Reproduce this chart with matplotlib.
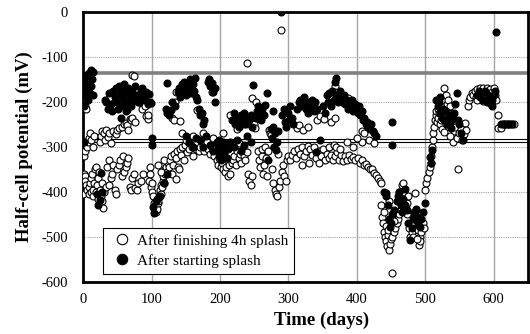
import matplotlib
matplotlib.use("Agg")
import matplotlib.pyplot as plt

plt.rcParams["font.family"] = ["Liberation Serif", "DejaVu Serif"]
plt.rcParams["axes.unicode_minus"] = False

# After finishing 4h splash (open circles): (day, mV)
open_pts = [
    (0, -405), (1, -360), (2, -365), (3, -375), (4, -385), (6, -395), (8, -390), (9, -405),
    (10, -380), (11, -400), (12, -370), (13, -360), (14, -410), (15, -395), (16, -380),
    (17, -350), (18, -345), (19, -400), (20, -385), (21, -415), (22, -370), (23, -355),
    (24, -395), (26, -410), (27, -380), (28, -420), (29, -435), (31, -400), (33, -390),
    (35, -345), (37, -330), (38, -385), (40, -370),
    (2, -210), (4, -215), (1, -320), (3, -310), (5, -300), (7, -290), (8, -280), (10, -270),
    (12, -285), (14, -300), (16, -275), (24, -290), (26, -275), (28, -265), (30, -268),
    (32, -285), (34, -262), (36, -278), (38, -270), (40, -292),
    (42, -360), (44, -340), (46, -395), (48, -405), (50, -350), (52, -340), (54, -330),
    (56, -365), (58, -320), (60, -355), (62, -345), (64, -335), (66, -325), (68, -390),
    (70, -395), (72, -370), (74, -360), (76, -392), (78, -395), (80, -380), (84, -375),
    (88, -360),
    (44, -265), (48, -272), (50, -262), (53, -258), (56, -255), (59, -250), (62, -246),
    (64, -252), (66, -262), (68, -238), (70, -240), (72, -235), (75, -245), (92, -232),
    (94, -238), (95, -228), (86, -215), (90, -210),
    (38, -192), (48, -185), (52, -198), (55, -205), (58, -188), (62, -175), (65, -190),
    (72, -140), (74, -142), (80, -200), (85, -190), (88, -178),
    (97, -345), (98, -360), (99, -390), (96, -375), (100, -380),
    (101, -400), (102, -410), (103, -425), (104, -435), (105, -430), (106, -445),
    (107, -440), (108, -438), (109, -425), (110, -420), (111, -410), (112, -395),
    (113, -405), (114, -385), (115, -390), (116, -375), (117, -365), (118, -380),
    (119, -350), (120, -360), (121, -345), (122, -355), (124, -335), (125, -345),
    (110, -340), (113, -355), (118, -330),
    (127, -330), (129, -320), (131, -340), (133, -315), (135, -325), (137, -310),
    (139, -345), (141, -305), (143, -318), (145, -300), (147, -330), (149, -295),
    (151, -312), (153, -290), (155, -305), (157, -285), (159, -300), (161, -320),
    (163, -295), (165, -305), (167, -290), (169, -310), (171, -300), (173, -285),
    (175, -295), (177, -310), (179, -300), (181, -290), (183, -305), (185, -315),
    (187, -298), (189, -310), (191, -320), (193, -305), (195, -330), (197, -340),
    (199, -325), (201, -345), (203, -335), (205, -350), (207, -355), (209, -345),
    (211, -365), (213, -340), (215, -360), (217, -335), (219, -330), (221, -320),
    (223, -340), (225, -310), (227, -325), (229, -315), (231, -335), (233, -305),
    (235, -320), (237, -330), (239, -312), (241, -360), (243, -375), (245, -385),
    (247, -365), (130, -360), (135, -372), (140, -350),
    (130, -235), (132, -240), (134, -200), (136, -178), (142, -243), (166, -218),
    (188, -178), (215, -230), (240, -113), (247, -192), (150, -285), (145, -270),
    (160, -275), (175, -270), (190, -280), (205, -270), (225, -260), (235, -250),
    (228, -292),
    (249, -250), (251, -258), (253, -200), (255, -310), (257, -330), (259, -345),
    (261, -320), (263, -360), (265, -340), (267, -325), (269, -365), (271, -262),
    (273, -268), (275, -273), (276, -350), (278, -380), (280, -395), (282, -405),
    (284, -410), (286, -390), (288, -375), (290, -355), (292, -340), (294, -365),
    (296, -375), (298, -330), (300, -320), (262, -305), (266, -300), (270, -310),
    (279, -300), (285, -315), (289, -40),
    (302, -330), (305, -318), (308, -310), (311, -325), (314, -305), (317, -315),
    (320, -300), (323, -320), (326, -310), (329, -298), (332, -305), (335, -318),
    (338, -300), (341, -325), (344, -310), (347, -320), (350, -305), (353, -330),
    (356, -315), (359, -325), (362, -318), (365, -330), (368, -320), (371, -312),
    (374, -328), (377, -318), (380, -332), (383, -320), (386, -328), (389, -318),
    (392, -326), (395, -322), (398, -330), (401, -325), (404, -335), (407, -330),
    (410, -340), (413, -338), (416, -345), (419, -350), (422, -348), (425, -358),
    (428, -362), (431, -368), (434, -375), (436, -380), (320, -340), (330, -335),
    (345, -335), (360, -300),
    (312, -258), (316, -252), (322, -262), (328, -255), (342, -240), (346, -232),
    (352, -238), (362, -245), (368, -235), (366, -295), (370, -300), (375, -305),
    (387, -192), (385, -290), (407, -265), (410, -270), (407, -290), (368, -165),
    (368, -178), (380, -200), (395, -300), (400, -280), (418, -285), (425, -292),
    (436, -430), (437, -455), (438, -470), (439, -445), (440, -490), (441, -500),
    (442, -475), (443, -510), (444, -520), (445, -495), (446, -485), (447, -530),
    (448, -515), (450, -505), (451, -580), (452, -500), (454, -490), (456, -480),
    (458, -470), (460, -460), (462, -450), (464, -440), (466, -385), (467, -380),
    (468, -400), (470, -420), (472, -430), (473, -425), (474, -450), (476, -480),
    (478, -500), (480, -490), (482, -470), (484, -455), (485, -403), (486, -440),
    (488, -465), (490, -485), (491, -517), (492, -500), (493, -510), (494, -490),
    (496, -470), (498, -480), (447, -420), (455, -465), (462, -400), (475, -410),
    (482, -500), (488, -505),
    (499, -395), (501, -380), (503, -370), (505, -355), (507, -345), (508, -335),
    (509, -320), (510, -300), (511, -285), (512, -270), (513, -255), (514, -240),
    (515, -230), (516, -220), (517, -245), (518, -215), (519, -235), (520, -225),
    (521, -250), (522, -205), (523, -240), (524, -260), (525, -210), (526, -195),
    (527, -230), (528, -170), (529, -215), (530, -185), (531, -250), (532, -205),
    (533, -195), (534, -225), (536, -210), (538, -240), (540, -288), (542, -265),
    (544, -255), (546, -280), (548, -349), (550, -270), (552, -260), (554, -285),
    (556, -272), (558, -247), (560, -262), (528, -266), (536, -275),
    (562, -210), (564, -195), (566, -190), (568, -180), (570, -185), (572, -175),
    (574, -190), (576, -172), (578, -180), (580, -168), (582, -178), (584, -170),
    (586, -185), (588, -175), (590, -168), (592, -180), (594, -172), (596, -190),
    (598, -178), (600, -170), (602, -185), (604, -195), (606, -229), (607, -257),
    (610, -258), (630, -248), (575, -195), (585, -198), (595, -200),
]

# After starting splash (filled circles): (day, mV)
filled_pts = [
    (0, -160), (0.5, -210), (1, -150), (1.5, -290), (2, -175), (3, -145), (4, -185),
    (5, -170), (6, -140), (7, -195), (8, -160), (9, -135), (10, -180), (11, -130),
    (12, -165), (13, -150), (14, -185), (15, -133),
    (20, -405), (22, -430), (24, -418), (26, -358), (28, -400),
    (32, -195), (34, -200), (36, -215), (38, -180), (40, -205), (42, -220), (44, -175),
    (46, -190), (48, -168), (50, -200), (51, -215), (52, -165), (54, -185), (55, -235),
    (56, -175), (58, -210), (59, -160), (60, -195), (62, -180), (63, -220), (64, -218),
    (65, -170), (66, -200), (68, -185), (70, -210), (72, -175), (74, -195), (76, -165),
    (78, -190), (80, -185), (82, -200), (84, -175), (86, -170), (88, -185), (90, -195),
    (92, -178), (94, -205), (96, -182), (98, -200), (99, -203), (100, -280), (100, -296),
    (102, -433), (103, -447), (106, -420), (108, -415), (112, -410), (118, -380),
    (122, -360), (122, -158), (121, -215), (123, -225),
    (126, -230), (128, -218), (130, -200), (134, -210), (138, -178), (140, -170),
    (142, -190), (144, -160), (146, -175), (148, -155), (150, -185), (152, -165),
    (154, -170), (156, -150), (158, -180), (160, -160), (162, -175), (163, -147),
    (165, -190), (167, -195), (169, -215), (171, -230), (173, -225), (175, -250),
    (177, -240), (182, -155), (184, -150), (186, -165), (188, -158), (190, -178),
    (192, -170), (193, -200),
    (150, -275), (155, -290), (160, -300), (165, -280), (170, -285), (175, -300),
    (180, -275), (185, -295), (190, -310), (195, -290), (197, -300), (198, -320),
    (199, -285), (200, -310), (201, -330), (202, -295), (203, -305), (204, -320),
    (205, -290), (206, -315), (207, -300), (210, -325), (212, -305), (215, -290),
    (220, -300), (225, -285), (230, -310), (235, -295), (240, -275), (245, -290),
    (218, -240), (220, -225), (222, -250), (225, -235), (228, -255), (230, -230),
    (232, -245), (235, -225), (238, -250), (240, -235), (243, -240), (245, -230),
    (247, -255), (248, -162),
    (252, -235), (254, -220), (256, -210), (258, -225), (260, -240), (262, -215),
    (264, -230), (266, -207), (268, -180), (270, -329), (274, -260), (276, -280),
    (277, -255), (278, -220), (279, -300), (280, -270), (282, -307), (284, -290),
    (285, -265), (289, 0), (290, -230), (293, -215), (295, -245), (297, -255),
    (299, -225), (301, -240), (303, -210), (305, -235), (307, -250),
    (312, -215), (315, -200), (317, -195), (319, -210), (321, -205), (323, -190),
    (325, -215), (327, -200), (329, -225), (331, -205), (333, -210), (335, -195),
    (337, -220), (339, -200), (341, -311), (342, -215), (346, -285), (350, -210),
    (353, -225), (356, -185), (358, -200), (360, -180), (362, -210), (364, -175),
    (366, -195), (368, -155), (369, -147), (370, -185), (372, -200),
    (375, -175), (377, -190), (379, -200), (381, -185), (383, -205), (385, -195),
    (387, -215), (389, -200), (391, -210), (393, -195), (395, -220), (397, -205),
    (399, -215), (401, -225), (403, -210), (405, -230), (407, -220), (409, -240),
    (411, -235), (413, -250), (415, -245), (417, -255), (419, -260), (421, -250),
    (423, -265), (425, -270), (428, -275), (451, -244), (451, -296),
    (440, -400), (442, -410), (443, -403), (445, -430), (447, -460), (448, -478),
    (450, -470), (452, -450), (455, -440), (458, -420), (460, -410), (462, -400),
    (464, -430), (466, -445), (468, -415), (470, -430), (471, -393), (473, -440),
    (475, -470), (477, -507), (480, -480), (482, -460), (484, -445), (486, -438),
    (488, -455), (490, -470), (492, -478), (494, -460), (496, -445), (499, -425),
    (507, -322), (508, -336), (510, -307), (516, -195), (518, -210), (520, -200),
    (521, -188), (522, -225), (524, -235), (526, -215), (528, -240), (530, -220),
    (532, -250), (534, -230), (536, -245), (538, -258), (540, -235), (542, -225),
    (544, -205), (546, -180), (548, -240), (550, -250), (552, -270), (555, -285),
    (575, -185), (578, -175), (580, -190), (582, -180), (585, -195), (588, -175),
    (590, -200), (592, -185), (594, -190), (596, -205), (597, -210), (598, -195),
    (600, -185), (602, -175), (604, -45),
    (611, -250), (613, -250), (615, -250), (617, -250), (619, -250), (621, -250),
    (623, -250), (625, -250), (627, -250),
]

# reference levels (mV)
gray_level = -135
double_levels = [-282.5, -288]

x_ticks = [0, 100, 200, 300, 400, 500, 600]
y_ticks = [-600, -500, -400, -300, -200, -100, 0]

fig = plt.figure(figsize=(5.30, 3.34), dpi=100)
ax = fig.add_axes([0.157, 0.156, 0.839, 0.808])

for x in x_ticks[1:]:
    ax.axvline(x, color="#a6a6a6", lw=1.0, zorder=0)
for y in y_ticks[1:-1]:
    ax.axhline(y, color="#a6a6a6", lw=0.8, ls=(0, (1, 1)), zorder=0)

ax.axhline(gray_level, color="#808080", lw=2.6, zorder=1)
for y in double_levels:
    ax.axhline(y, color="black", lw=0.8, zorder=1)

od, ov = zip(*open_pts)
fd, fv = zip(*filled_pts)
ax.plot(od, ov, "o", ls="none", ms=5, mfc="white", mec="black", mew=0.8,
        label="After finishing 4h splash", zorder=3)
ax.plot(fd, fv, "o", ls="none", ms=5, mfc="black", mec="black", mew=0.8,
        label="After starting splash", zorder=4)

ax.set_xlim(0, 650)
ax.set_ylim(-600, 0)
ax.set_xticks(x_ticks)
ax.set_yticks(y_ticks)
ax.tick_params(length=0, labelsize=10.5)
ax.tick_params(axis="x", pad=8)
ax.tick_params(axis="y", pad=11)
for s in ax.spines.values():
    s.set_linewidth(2.0)

ax.set_xlabel("Time (days)", fontsize=13.5, fontweight="bold")
ax.xaxis.set_label_coords(0.535, -0.11)
ax.set_ylabel("Half-cell potential (mV)", fontsize=13.5, fontweight="bold", labelpad=6)

leg = ax.legend(loc="lower left", bbox_to_anchor=(0.045, 0.03), fontsize=11,
                frameon=True, fancybox=False, edgecolor="black", framealpha=1,
                borderaxespad=0, handletextpad=0.2, borderpad=0.4, labelspacing=0.4,
                markerscale=1.5, handlelength=1.6)
leg.get_frame().set_linewidth(0.8)

fig.savefig("out.png", dpi=100)
